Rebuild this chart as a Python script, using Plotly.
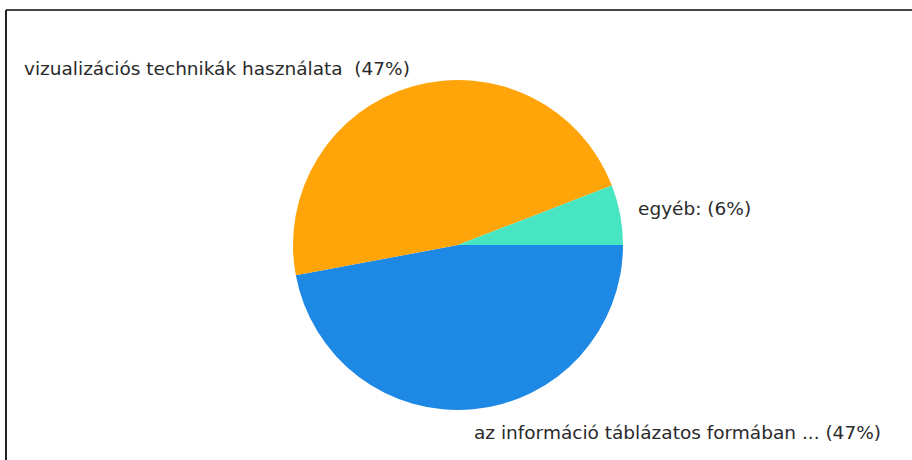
import plotly.graph_objects as go

# slices, clockwise from 3 o'clock
labels = ["az információ táblázatos formában ...", "vizualizációs technikák használata\u00a0", "egyéb:"]
values = [8, 8, 1]
colors = ["#1e88e5", "#ffa50a", "#48e5c2"]

W, H = 912, 460
cx, cy, r = 458, 245, 165


def px(x):
    return x / W


def py(y):
    return 1 - y / H


fig = go.Figure(go.Pie(
    labels=labels,
    values=values,
    sort=False,
    direction="clockwise",
    rotation=90,
    marker=dict(colors=colors, line=dict(width=0)),
    textinfo="none",
    hoverinfo="label+percent",
    domain=dict(x=[px(cx - r), px(cx + r)], y=[py(cy + r), py(cy - r)]),
))

# label placement (left edge, vertical centre) in pixels
label_pos = [(472, 432), (22, 68), (636, 208)]
total = sum(values)
for lab, v, (lx, ly) in zip(labels, values, label_pos):
    pct = round(100 * v / total)
    fig.add_annotation(
        text=f"{lab} ({pct}%)",
        x=px(lx), y=py(ly), xref="paper", yref="paper",
        xanchor="left", yanchor="middle", showarrow=False,
        font=dict(family="DejaVu Sans", size=18.5, color="#2a2a2a"),
    )

# frame lines at top and left
fig.add_shape(type="line", xref="paper", yref="paper",
              x0=px(6), x1=1, y0=py(10), y1=py(10),
              line=dict(color="#444444", width=2))
fig.add_shape(type="line", xref="paper", yref="paper",
              x0=px(6), x1=px(6), y0=py(10), y1=0,
              line=dict(color="#222222", width=2))

fig.update_layout(
    width=W, height=H,
    margin=dict(l=0, r=0, t=0, b=0),
    showlegend=False,
    paper_bgcolor="white",
    plot_bgcolor="white",
)

# drop the default page margin so the figure sits at the window corner
fig.write_html("out.html", config={"displayModeBar": False},
               post_script="document.body.style.margin='0';document.body.style.overflow='hidden';")
